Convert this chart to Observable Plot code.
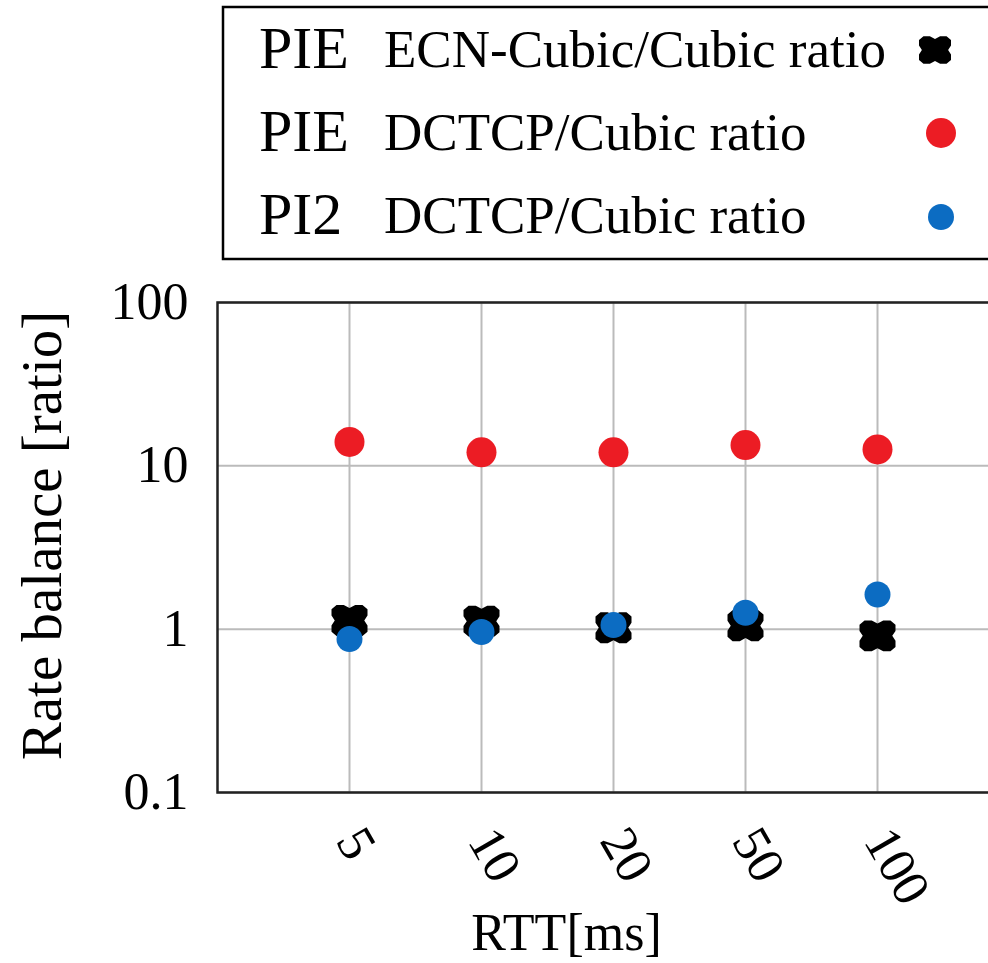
<!DOCTYPE html>
<html>
<head>
<meta charset="utf-8">
<script src="https://cdn.jsdelivr.net/npm/d3@7"></script>
<script src="https://cdn.jsdelivr.net/npm/@observablehq/plot@0.6"></script>
<style>
  html, body { margin: 0; padding: 0; background: #fff; overflow: hidden; width: 988px; height: 963px; }
  #wrap { position: relative; width: 988px; height: 963px; overflow: hidden; }
  #chart { position: absolute; left: 0; top: 0; width: 1010px; }
  #chart svg { max-width: none !important; width: 1010px; height: 963px; }
  #legend { position: absolute; left: 0; top: 0; }
</style>
</head>
<body>
<div id="wrap"><div id="chart"></div><svg id="legend" width="988" height="270"></svg></div>
<script>
// ---- data ----
const rtt = ["5", "10", "20", "50", "100"];
const pieEcnCubic = [1.13, 1.12, 1.02, 1.05, 0.91];
const pieDctcpCubic = [14.0, 12.1, 12.1, 13.4, 12.6];
const pi2DctcpCubic = [0.87, 0.96, 1.06, 1.26, 1.63];
const yTicks = [0.1, 1, 10, 100];
const seriesAqm = ["PIE", "PIE", "PI2"];
const seriesName = ["ECN-Cubic/Cubic ratio", "DCTCP/Cubic ratio", "DCTCP/Cubic ratio"];
const xLabel = "RTT[ms]";
const yLabel = "Rate balance [ratio]";

const RED = "#ec1c24", BLUE = "#0c6cc2", BLACK = "#000";
const FONT = "'Liberation Serif', 'DejaVu Serif', serif";

// notched square symbol
const notched = {
  draw(context, size) {
    const r = Math.sqrt(size / Math.PI);
    const k = 0.86;
    const pts = [[-0.72,-1],[-0.32,-1],[0,-0.8],[0.32,-1],[0.72,-1],[1,-0.72],[1,-0.32],[0.82,0],[1,0.32],[1,0.72],[0.72,1],[0.32,1],[0,0.8],[-0.32,1],[-0.72,1],[-1,0.72],[-1,0.32],[-0.82,0],[-1,-0.32],[-1,-0.72]];
    pts.forEach(([x, y], i) => {
      if (i === 0) context.moveTo(x * r, y * r * k); else context.lineTo(x * r, y * r * k);
    });
    context.closePath();
  }
};

const black = rtt.map((x, i) => ({x, y: pieEcnCubic[i]}));
const red = rtt.map((x, i) => ({x, y: pieDctcpCubic[i]}));
const blue = rtt.map((x, i) => ({x, y: pi2DctcpCubic[i]}));

const plot = Plot.plot({
  width: 1010,
  height: 963,
  marginTop: 302,
  marginBottom: 171,
  marginLeft: 217,
  marginRight: 1,
  style: {fontFamily: FONT, fontSize: "52px", color: "#000", background: "transparent", maxWidth: "none"},
  x: {type: "point", domain: rtt, padding: 1, label: null},
  y: {type: "log", domain: [0.1, 100], label: null},
  marks: [
    Plot.gridX(rtt, {stroke: "#bbb", strokeOpacity: 1, strokeWidth: 2}),
    Plot.gridY(yTicks, {stroke: "#bbb", strokeOpacity: 1, strokeWidth: 2}),
    Plot.axisY(yTicks, {tickSize: 0, tickPadding: 29, tickFormat: d => String(d), fontSize: 52, label: null}),
    Plot.axisX(rtt, {tickSize: 0, tickRotate: 60, tickPadding: 40, fontSize: 52, label: null}),
    Plot.text([yLabel], {frameAnchor: "left", textAnchor: "middle", rotate: -90, dx: -175, dy: -12, fontSize: 57}),
    Plot.text([xLabel], {frameAnchor: "bottom", textAnchor: "middle", dx: -47, dy: 157, fontSize: 52}),
    Plot.frame({stroke: "#222", strokeWidth: 2.5}),
    Plot.dot(black, {x: "x", y: "y", r: 18, symbol: notched, fill: BLACK, stroke: "none"}),
    Plot.dot(red, {x: "x", y: "y", r: 15, fill: RED, stroke: "none"}),
    Plot.dot(blue, {x: "x", y: "y", r: 13, fill: BLUE, stroke: "none"})
  ]
});
document.getElementById("chart").appendChild(plot);

// ---- legend ----
const lg = d3.select("#legend");
lg.append("rect").attr("x", 223).attr("y", 7).attr("width", 820).attr("height", 252)
  .attr("fill", "#fff").attr("stroke", "#000").attr("stroke-width", 2.5);
const rowsY = [68, 151, 234];
const markerY = [50, 133, 217];
const markerX = [935, 941, 941];
seriesAqm.forEach((a, i) => {
  lg.append("text").attr("x", 259).attr("y", rowsY[i]).attr("font-family", FONT).attr("font-size", 60).text(a);
  lg.append("text").attr("x", 384).attr("y", rowsY[i] - 1).attr("font-family", FONT).attr("font-size", 53).text(seriesName[i]);
});
lg.append("path").attr("d", d3.symbol(notched, Math.PI * 16 * 16)()).attr("transform", `translate(${markerX[0]},${markerY[0]})`).attr("fill", BLACK);
lg.append("circle").attr("cx", markerX[1]).attr("cy", markerY[1]).attr("r", 15).attr("fill", RED);
lg.append("circle").attr("cx", markerX[2]).attr("cy", markerY[2]).attr("r", 13).attr("fill", BLUE);
</script>
</body>
</html>
